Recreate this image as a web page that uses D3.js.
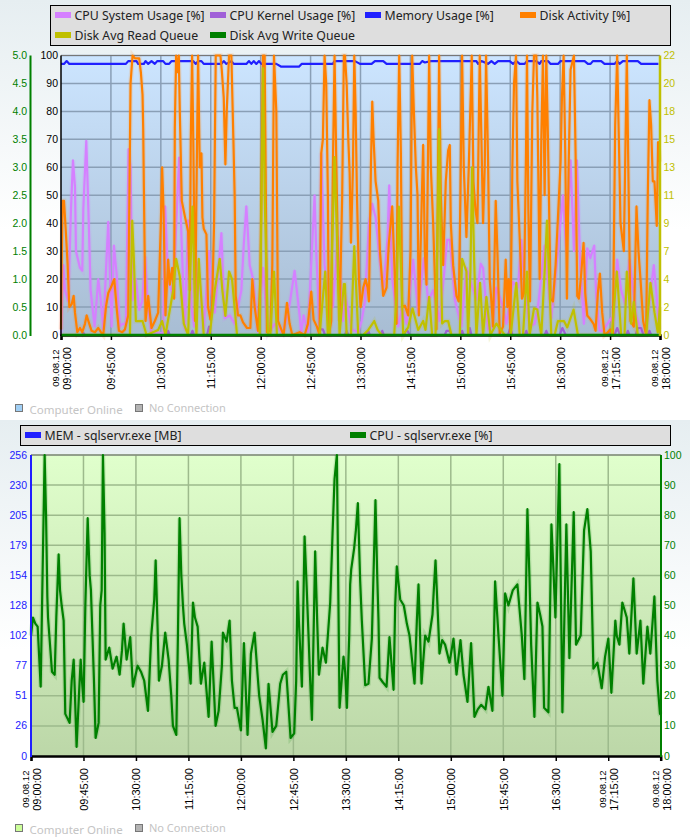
<!DOCTYPE html>
<html>
<head>
<meta charset="utf-8">
<script src="https://cdnjs.cloudflare.com/ajax/libs/d3/7.8.5/d3.min.js"></script>
<style>
html, body { margin: 0; padding: 0; background: #fff; }
svg { display: block; }
text { font-family: "Liberation Sans", sans-serif; }
</style>
</head>
<body>
<div id="chart"></div>
<script>
// samples are [minutes since 09:00, value]
var cpuSystem = [[0,0],[2.1,25],[3.6,16],[6.6,12],[9,45],[10.8,62.5],[12.6,53],[13.5,30],[17.1,24],[19.2,23],[20.1,45],[22.8,69.5],[24.6,46],[26.7,16],[30.3,3],[33.6,20],[35.7,13],[38.1,2],[42.6,40.5],[45.6,3],[47.7,32],[50.1,22],[53.1,3],[55.5,4],[58.5,4],[60.9,66.5],[62.7,60],[64.5,12.5],[67.5,20],[70.5,9],[73.2,12],[75.9,28],[78,12],[81.6,0.5],[86.1,1],[92.1,0.5],[93.9,46],[96.6,20],[101.1,14],[106.5,63.5],[108.6,35],[111.6,2],[114.6,41],[117.6,10],[120,3],[123.6,26],[128.7,2],[133.5,30],[135.6,15],[138.6,8],[144.6,36.5],[147.6,6],[152.1,7],[156.6,4],[162.6,16],[164.7,32],[167.1,46],[170.1,25],[173.1,20],[177.6,1],[182.1,24],[186.6,0.5],[192.6,4],[200.1,0.5],[206.1,11],[210.6,23],[215.1,7],[216.6,0.5],[218.7,7],[222.6,1],[228.6,50],[230.1,30],[233.1,1],[234.6,65],[237.6,25],[240.6,15],[245.1,10],[249.6,35],[254.1,5],
  [256,15],[262,2],[268,1],[271,5],[274,12],[277.6,40],[280.6,47],[283.6,42],[287.5,26],[290.5,16],[294.4,35],[295.9,53.5],[298.6,20],[304,3],[307.6,10],[311.5,4],[317.5,27],[322,8],[327.1,27.5],[331,12],[335.5,16],[341.5,5],[348.1,34],[350.5,34],[355,12.6],[361,3],[365.5,24],[370.9,17],[374.5,12.6],[378.4,25.5],[380.5,24],[385,2],[388.9,3],[392.5,17],[398.5,10],[401.5,4],[407.5,19],[412,17],[415,34],[418,17],[422.5,3],[427,4],[430,10],[436,32],[442,6],[448,30],[452.5,50],[455.5,30],[459.4,62.5],[462.4,30],[465.1,62.5],[468.1,25],[471.4,4],[474.4,31],[477.1,27.5],[480.7,32],[482.5,14],[485.5,1.5],[488.5,1.5],[496,6],[497.5,4],[501.4,27],[505,16],[508.6,11],[512.5,27],[514.6,20],[518.5,7],[523,1.5],[526.9,0.5],[529.6,9],[534.4,25],[536.5,16],[539.5,2]];

var cpuKernel = [[0,0],[19,0],[20.1,0.7],[21.6,0],[96,0],[96.6,1.5],[98,0],[117,0],[118.5,1.5],[120,0],[131.7,0],[133.5,3],[135,0],[232.5,0],[233.1,2],[236.1,2],[238,0],[256,0],[257.5,1.5],[259,0],[275.5,0],[277,1.5],[278.5,0],[288,0],[289.6,1.5],[291,0],[309.4,0],[311.5,2],[314.5,0],[346,0],[347.5,1.5],[350.5,1.5],[352,0],[360,0],[361.6,1.5],[363,0],[367,0],[368.5,2.5],[370,0],[403,0],[405,2.5],[407,0],[418,0],[419.5,1.5],[421,0],[436,0],[437.5,1.5],[439,0],[449.5,0],[452,2.5],[455,0],[492.4,0],[494,1.5],[495.6,0],[499,0],[501.4,2.5],[504,0],[509.5,0],[511,1.5],[512.5,0],[518,0],[520,2.5],[523,2.5],[525,0],[529,0],[530.5,1.5],[532,0],[540,0]];

var memoryUsage = [[0,97],[2.7,97],[5.1,98],[7.5,97],[58.5,97],[60.6,98],[68.1,98],[69.6,97],[74.7,97],[76.2,98],[78.6,97],[81.6,98],[84.6,97],[86.7,98],[92.1,98],[94.2,97],[97.5,97],[99.6,98],[119.1,98],[121.5,97],[123.6,98],[126.6,98],[128.7,97],[144.6,97],[146.7,98],[149.1,97],[153.6,98],[155.7,97],[167.1,97],[169.5,98],[171.6,97],[173.7,98],[176.1,97],[178.5,98],[180.6,97],[194.1,97],[198.6,96],[214.5,96],[216.9,97],[237.6,97],[245.1,97],[246.6,98],[256,98],[265,98],[269.5,97],[280,97],[283,98],[290.5,98],[293.5,97],[323.5,97],[325.6,98],[328,97.5],[333.4,98],[361.6,98],[374.5,98],[376,97],[379,98],[385,97],[388,98],[391,97],[394,98],[404.5,98],[407.5,97],[410.5,98],[413.5,97],[418,97],[420,98],[428.5,98],[431.5,97],[433,98],[439,98],[441.4,97],[448,97],[450.4,98],[472,98],[475,97],[477.4,97],[479.5,98],[487,98],[490,97],[499,97],[501.4,98],[503.5,97],[506.5,98],[520,98],[523,97],[538.6,97]];

var diskActivity = [[0,2],[0.6,25],[1.5,48],[2.7,48],[4.2,38],[6,25],[7.5,10],[9.6,11],[11.4,14],[12.6,8],[14.7,1],[17.1,2.5],[19.2,1],[21.6,4],[23.1,7],[25.5,4],[27.6,1.5],[30.6,1],[33.6,2.5],[36,1],[38.1,0],[40.5,10],[42.6,15],[45,17],[48,20],[50.1,10],[52.2,1.5],[55.2,1],[57.6,2],[60.6,7],[62.7,90],[64.5,100],[66.6,99],[70.5,99],[72,94],[73.5,86],[74.1,74],[74.7,53],[76.2,5],[78.6,14],[80.1,8],[81.6,2.5],[84.6,5],[87.6,8],[90,40],[91.2,60],[92.4,45],[94.2,7],[96.6,27],[98.1,18],[100.2,24],[102,13],[102.6,74],[103.8,100],[105,94],[106.2,100],[107.1,80],[108.9,48],[111.9,42],[114.6,37],[116.1,16],[117,70],[118.2,100],[119.4,65],[120.9,5],[122.1,50],[123.6,100],[125.1,60],[126.6,65],[127.5,42],[128.7,38],[131.1,36],[132.6,10],[134.7,5.5],[136.2,10],[138,40],[139.5,100],[143.7,100],[144.9,95],[146.7,85],[148.2,61],[149.4,80],[151.5,100],[153.6,100],[155.4,70],[156.6,49],[157.5,14],[159.6,7],[161.7,7],[164.1,4.5],[167.7,2.5],[170.7,2.5],[172.5,20],[174.6,10],[177.6,1.5],[179.7,20],[182.1,100],[183.6,100],[185.7,1],[188.7,1.5],[190.5,25],[192,100],[194.1,80],[195.6,5],[198.6,2],[200.7,0],[203.7,11.5],[206.1,4],[208.5,0],[212.1,0.5],[215.1,1],[219.6,0],[222.6,4],[225.6,15.5],[227.7,5.5],[230.7,3],[233.1,0],[234.6,65],[236.1,70],[237.6,100],[239.1,90],[240.6,50],[241.5,0],[243.6,5],[245.1,60],[246.6,100],[248.1,64],[249.6,30],[251.1,5],[253.5,50],[255,100],
  [256,100],[257.5,90],[259,70],[260.2,58],[261.4,33],[263.2,60],[264.4,100],[265.6,80],[266.8,50],[268.6,20],[270.1,10],[272.5,17],[274.6,20],[276.4,17],[277.6,12],[279.4,60],[280.6,83.5],[281.8,70],[283.6,55],[286,48],[287.5,30],[290.5,14],[293.5,17],[295.6,33],[298.6,46],[300.1,30],[302.5,4],[303.4,60],[304.9,100],[306.4,65],[307.6,10],[310,10.5],[313,7],[315.1,30],[316.6,100],[318.1,80],[319.9,60],[321.4,50],[322.6,7],[324.4,35],[326.5,68],[328,30],[329.5,18],[331.9,100],[333.4,60],[335.5,40],[338.5,2],[340.9,100],[342.4,50],[344.5,25],[346.9,55],[349,66],[350.5,68],[351.4,40],[353.5,25],[356.5,14],[358.6,12],[360.1,50],[361.6,100],[363.1,60],[365.5,35],[367.6,60],[370.3,100],[371.8,55],[373.6,45],[375.4,40],[377.5,100],[379,70],[380.5,40],[382,60],[383.2,100],[385,62],[386.5,20],[388,12],[389.5,3],[391.9,48],[393.4,30],[395.5,0.5],[398.5,3],[400.9,27],[402.4,10],[403.6,20],[405.1,1],[406.9,60],[408.4,90],[410.2,100],[411.4,55],[413.5,35],[415.6,13],[417.4,15],[419.2,65],[420.1,100],[421.3,45],[422.8,12],[424.9,80],[426.4,100],[428.5,100],[429.4,85],[431.5,20],[433,70],[434.5,100],[436,50],[437.5,100],[439,70],[441.4,13],[443.5,12],[445.9,25],[448,42],[450.4,62],[451.6,85],[453.1,100],[454.6,65],[456.1,13],[457.6,60],[459.4,95],[460.6,97],[462.4,100],[463.9,65],[465.4,14],[466.9,13],[469,22],[471.1,33],[472.6,15],[474.4,7],[476.5,6],[480.1,4],[481.9,1.5],[484,15],[485.8,22],[487.9,8],[490,0],[493,1],[495.1,2],[497.5,0],[499.6,75],[501.4,100],[502.9,70],[504.4,40],[507.4,30],[510.1,100],[511.6,55],[513.4,5],[516.4,3],[518.8,46],[520.6,30],[522.4,20],[524.8,5],[527.5,0],[529,50],[530.5,84],[532,75],[533.5,55],[535,55],[537.1,39],[538.3,69],[540,62]];

var readQueue = [[0,0],[62.1,0],[64.2,9],[65.7,6],[67.5,1.1],[73.5,1.1],[77.1,0],[87.6,0.4],[91.2,1.1],[94.2,0],[101.1,3.5],[103.8,6],[107.1,4.6],[110.7,0.9],[114.6,0],[118.5,10.1],[120.6,3.5],[122.1,0],[124.2,6],[126,3.5],[128.7,0],[134.1,0],[138.6,3.5],[143.1,6],[145.5,3.5],[148.2,1.5],[151.5,5],[154.2,4.4],[158.7,0],[179.1,0],[180.6,9.2],[182.1,21],[183.6,11],[186.6,0],[188.7,0],[192,5],[194.7,0],[233.1,0],[238.2,5],[240.6,0],[242.1,0],[245.1,9],[246.6,14],[248.7,8],[251.1,0],[255,4],
  [256,4],[257.5,0],[261.4,0],[264.4,7],[268,0],[272.5,0],[277,0.4],[282.4,1.1],[285.4,0.4],[289,0],[300.4,0],[302.5,3.3],[304.6,10.1],[308.5,0],[313,0.6],[316.9,2.1],[322,0.4],[326.5,1.1],[328.6,0.4],[331.9,3],[334.6,0],[337.6,0],[339.4,8],[340.9,16.2],[342.4,6],[343.6,0.9],[346,1.1],[349,1.1],[352,0],[359.5,0],[361.6,6],[365.5,5],[367,0],[369.1,5],[370.6,13.2],[372.4,6],[374.5,0],[377.8,4.1],[380.5,0],[383.5,3],[387.1,0],[392.5,0.9],[400,0],[405.4,0],[410.5,4.1],[413.5,0],[416.5,0],[420.1,5],[422.5,0],[426.4,2.1],[429.4,2],[433,0],[436,5],[438.1,9],[442,0],[445,0],[448,1.1],[453.4,1.1],[456.4,0.6],[462.1,2],[466,0],[496.6,0],[501.1,5],[505,0],[508,0],[510.1,5],[514,0.9],[516.4,2.6],[520,0],[527.5,0],[531.4,4.1],[535,1.8],[538,0.2],[540,2.2]];

var writeQueue = [[0,0],[540,0]];

var cpuSqlservr = [[0,40],[1.7,46],[3.7,44],[5.7,43],[8.3,23],[10,62],[11.7,100],[12.9,80],[14,53],[14.6,46],[18,28],[20.3,27],[21.7,46],[23.7,67],[24.9,55],[26.3,50],[28,45],[29.4,14],[33.1,11],[34.9,25],[36.6,32],[37.7,20],[39.1,3],[41.1,20],[42.6,32],[43.7,25],[45.1,18],[46.6,50],[48.6,79],[50.3,60],[51.4,55],[54,25],[55.4,6],[58,11],[59.4,50],[60.6,55],[61.7,100],[63.1,74],[64,32],[67.1,36],[70,29],[73.4,33],[76,27],[78,35],[79.4,44],[82,32],[85.1,39.5],[87.4,23],[91.4,30],[94.3,28],[97.1,25],[100.3,15],[103.1,40],[105.7,52],[106.9,65],[108.6,42],[109.7,25],[112.3,30],[115.1,41],[118,32],[120.3,20],[121.7,10],[124.6,7],[126,40],[127.4,79],[128.9,60],[130.3,50],[131.4,44],[133.7,37],[136.9,24],[138.9,51],[140.6,46],[142.9,43],[145.7,24],[148.6,31],[152.3,13],[154.9,38],[156.6,24],[158.3,10],[160.9,15],[163.7,30],[164.6,41],[167.7,38],[170.3,45],[172.3,25],[174.6,16],[176.6,16],[180,8.5],[182.6,37.5],[185.7,7],[188.6,34],[191.7,41],[194.3,27],[195.7,20],[198.6,12],[201.4,2.5],[203.7,24],[207.1,8],[210.3,10],[213.7,24],[216,27],[218.9,28],[222.6,6],[225.7,7.5],[227.4,25],[228.6,58],[229.7,45],[232.3,23],[234.6,73],[236,60],[238,40],[239.4,25],[240.9,12],[243.7,68],[245.4,45],[246.9,27],[250,36],[252.9,31],[256.6,51],[258.6,74],[260.3,92],[262.3,100],[264.6,16],[268,33],[269.4,28],
  [270.9,16],[272.9,40],[273.7,57],[274.6,62],[277.1,69],[278.6,75],[280.3,84],[282.3,58],[283.7,45],[286.6,23.5],[289.4,24],[292.3,39],[293.7,60],[295.4,85],[296.9,60],[298,45],[298.9,26],[301.7,24.5],[304.9,23],[307.4,39.5],[310.9,22],[312.3,50],[313.7,63],[316.6,52],[319.7,50],[322.3,44],[324.6,40],[328.9,24],[330.9,45],[332.3,57],[334.9,24],[338,40],[340.9,38],[344.3,47],[345.4,55],[346.9,65],[348.9,47],[350.3,34],[352.6,38.5],[355.1,37],[358.9,31],[362.3,39],[364.9,27],[368.3,38.5],[370.9,27],[374.3,18],[377.4,37.5],[380.3,13],[383.1,15.5],[386,17],[389.7,15.5],[392.3,23],[395.7,15],[398,58],[400.9,40],[404.3,20],[406.6,54],[409.4,50],[413.1,55],[417.1,57],[420.9,40],[423.1,25.5],[425.7,82],[427.4,60],[428.9,37],[431.7,13],[434.3,51],[436.6,47],[438.6,43],[440,16],[443.7,14.5],[446.3,77],[448,62],[449.7,46],[453.1,97],[455.7,14.5],[459.1,77],[461.7,32.5],[465.4,81],[467.4,37],[471.4,40],[474.3,75],[477.1,82],[480,68],[482.3,29],[485.7,31],[489.4,22.5],[492.3,33],[495.1,39],[497.7,21],[501.1,45],[502.3,40],[504.6,37],[507.1,51],[510.9,46],[513.1,34],[516.6,59],[519.4,34],[522.6,45],[525.1,24],[528.6,43],[531.1,34],[534.6,53],[537.1,25],[539.4,14],[540,14]];

var tickMinutes = [0, 45, 90, 135, 180, 225, 270, 315, 360, 405, 450, 495, 540];
var tickTimes = ["09:00:00", "09:45:00", "10:30:00", "11:15:00", "12:00:00", "12:45:00", "13:30:00", "14:15:00", "15:00:00", "15:45:00", "16:30:00", "17:15:00", "18:00:00"];
var tickDates = ["09.08.12", "", "", "", "", "", "", "", "", "", "", "09.08.12", "09.08.12"];

var percentTicks = [0, 10, 20, 30, 40, 50, 60, 70, 80, 90, 100];
var writeQueueLabels = ["0.0", "0.5", "1.0", "1.5", "2.0", "2.5", "3.0", "3.5", "4.0", "4.5", "5.0"];
var readQueueLabels = ["0", "2", "4", "7", "9", "11", "13", "15", "18", "20", "22"];
var memLabels = ["0", "26", "51", "77", "102", "128", "154", "179", "205", "230", "256"];

var topLegend = ["CPU System Usage [%]", "CPU Kernel Usage [%]", "Memory Usage [%]", "Disk Activity [%]", "Disk Avg Read Queue", "Disk Avg Write Queue"];
var topColors = ["#d580ff", "#a060d8", "#2020ff", "#ff8000", "#c0c000", "#008000"];
var bottomLegend = ["MEM - sqlservr.exe [MB]", "CPU - sqlservr.exe [%]"];
var bottomColors = ["#2020ff", "#008000"];

var svg = d3.select("#chart").append("svg").attr("width", 690).attr("height", 840);
var defs = svg.append("defs");

function vGradient(id, top, bottom, stop) {
  var g = defs.append("linearGradient").attr("id", id).attr("x1", 0).attr("y1", 0).attr("x2", 0).attr("y2", 1);
  g.append("stop").attr("offset", "0%").attr("stop-color", top);
  g.append("stop").attr("offset", stop || "100%").attr("stop-color", bottom);
}
vGradient("pageBg", "#e6eef1", "#ffffff", "55%");
vGradient("bluePlot", "#cce5ff", "#a8bdd3");
vGradient("greenPlot", "#e0ffcc", "#bcd7a8");

function drawLegend(box, names, colors, cols) {
  svg.append("rect").attr("x", box.x + 0.5).attr("y", box.y + 0.5)
    .attr("width", box.w).attr("height", box.h)
    .attr("fill", "#dedede").attr("stroke", "#000");
  names.forEach(function(name, i) {
    var sx = cols[i % cols.length];
    var cy = box.y + 10 + 20 * Math.floor(i / cols.length);
    svg.append("rect").attr("x", sx).attr("y", cy - 3).attr("width", 16).attr("height", 6).attr("fill", colors[i]);
    svg.append("text").attr("x", sx + 19.5).attr("y", cy + 4.5)
      .attr("font-size", 12.3).attr("fill", "#222")
      .style("font-family", '"Noto Sans", sans-serif')
      .text(name);
  });
}

function drawStatus(y, onlineColor) {
  svg.append("rect").attr("x", 15.5).attr("y", y + 0.5).attr("width", 7).attr("height", 7).attr("fill", onlineColor).attr("stroke", "#777");
  svg.append("rect").attr("x", 135.5).attr("y", y + 0.5).attr("width", 7).attr("height", 7).attr("fill", "#b4b4b4").attr("stroke", "#777");
  svg.append("text").attr("x", 29.5).attr("y", y + 10).attr("font-size", 11.5).attr("fill", "#c4c4c4")
    .style("font-family", '"Noto Sans", sans-serif').text("Computer Online");
  svg.append("text").attr("x", 149).attr("y", y + 8).attr("font-size", 11).attr("fill", "#c4c4c4")
    .style("font-family", '"Noto Sans", sans-serif').text("No Connection");
}

function drawFrame(x, y, bg, grid) {
  var x0 = x.range()[0], x1 = x.range()[1], y0 = y.range()[0], y1 = y.range()[1];
  svg.append("rect").attr("x", x0).attr("y", y1).attr("width", x1 - x0).attr("height", y0 - y1).attr("fill", "url(#" + bg + ")");
  svg.append("g").selectAll("line").data(percentTicks.slice(1)).enter().append("line")
    .attr("x1", x0).attr("x2", x1).attr("y1", y).attr("y2", y)
    .attr("stroke", grid).attr("stroke-width", 1.5);
  svg.append("g").selectAll("line").data(tickMinutes.slice(1, -1)).enter().append("line")
    .attr("x1", x).attr("x2", x).attr("y1", y1).attr("y2", y0)
    .attr("stroke", grid).attr("stroke-width", 1.5);
  svg.append("line").attr("x1", x0).attr("x2", x1).attr("y1", y1).attr("y2", y1).attr("stroke", "#777");
}

function drawTimeAxis(x, y0) {
  var axis = d3.axisBottom(x).tickValues(tickMinutes).tickSize(5).tickFormat("");
  var g = svg.append("g").attr("transform", "translate(0," + y0 + ")").call(axis);
  g.select(".domain").attr("stroke", "#000").attr("stroke-width", 2.5);
  g.selectAll(".tick line").attr("stroke", "#000").attr("stroke-width", 1.5);
  tickMinutes.forEach(function(m, i) {
    var label = svg.append("g").attr("transform", "translate(" + x(m) + "," + (y0 + 12) + ") rotate(-90)");
    // dated ticks carry two lines, the time then sits right of the tick
    label.append("text").attr("text-anchor", "end").attr("y", tickDates[i] ? 10 : 4.5)
      .attr("font-size", 11).attr("fill", "#000").text(tickTimes[i]);
    if (tickDates[i]) {
      label.append("text").attr("x", -2.5).attr("text-anchor", "end").attr("y", -2)
        .attr("font-size", 9.6).attr("fill", "#000").text(tickDates[i]);
    }
  });
}

// value axis drawn as a coloured bar with labels that sit on the percent grid
function drawValueAxis(y, lineX, textX, anchor, labels, color, width) {
  var g = svg.append("g");
  if (width) {
    g.append("line").attr("x1", lineX).attr("x2", lineX).attr("y1", y.range()[1]).attr("y2", y.range()[0] + 1)
      .attr("stroke", color).attr("stroke-width", width);
  }
  g.selectAll("text").data(labels).enter().append("text")
    .attr("x", textX).attr("y", function(d, i) { return y(percentTicks[i]) + 3.5; })
    .attr("text-anchor", anchor).attr("font-size", 10.5)
    .attr("fill", color)
    .style("font-family", '"Liberation Sans Narrow", "Liberation Sans", sans-serif')
    .text(function(d) { return d; });
}

function drawLine(samples, x, y, color, width, halo) {
  var line = d3.line().x(function(d) { return x(d[0]); }).y(function(d) { return y(d[1]); });
  if (halo) {
    svg.append("path").datum(samples).attr("d", line).attr("fill", "none")
      .attr("stroke", color).attr("stroke-opacity", 0.14).attr("stroke-width", width + 2.5);
  }
  svg.append("path").datum(samples).attr("d", line).attr("fill", "none")
    .attr("stroke", color).attr("stroke-width", width)
    .attr("stroke-linejoin", "round");
}

/* page backgrounds */
svg.append("rect").attr("width", 690).attr("height", 420).attr("fill", "url(#pageBg)");
svg.append("rect").attr("y", 420).attr("width", 690).attr("height", 420).attr("fill", "url(#pageBg)");

/* top chart */
var x1 = d3.scaleLinear().domain([0, 540]).range([61, 660]);
var yPct = d3.scaleLinear().domain([0, 100]).range([335, 55.5]);
var yRead = d3.scaleLinear().domain([0, 22]).range([335, 55.5]);
var yWrite = d3.scaleLinear().domain([0, 5]).range([335, 55.5]);

drawLegend({x: 50, y: 5, w: 620, h: 40}, topLegend, topColors, [55, 210, 365, 520]);
drawFrame(x1, yPct, "bluePlot", "#8a9fb6");
drawLine(cpuSystem, x1, yPct, topColors[0], 2.2, true);
drawLine(cpuKernel, x1, yPct, topColors[1], 2.2, false);
drawLine(memoryUsage, x1, yPct, topColors[2], 2.2, false);
drawLine(diskActivity, x1, yPct, topColors[3], 2.2, true);
drawLine(readQueue, x1, yRead, topColors[4], 2.2, true);
drawTimeAxis(x1, 335);
drawLine(writeQueue, x1, yWrite, topColors[5], 2.5, false);
drawValueAxis(yPct, 30.5, 27, "end", writeQueueLabels, "#008000", 2);
drawValueAxis(yPct, 61, 58, "end", percentTicks, "#000", 1.5);
drawValueAxis(yPct, 660, 663.5, "start", readQueueLabels, "#c0c000", 2.5);
drawStatus(404, "#a0cff5");

/* bottom chart */
var x2 = d3.scaleLinear().domain([0, 540]).range([31, 660.7]);
var yCpu = d3.scaleLinear().domain([0, 100]).range([756, 455]);

drawLegend({x: 20, y: 425, w: 650, h: 20}, bottomLegend, bottomColors, [25, 350]);
drawFrame(x2, yCpu, "greenPlot", "#9dba8c");
drawLine(cpuSqlservr, x2, yCpu, "#008000", 2.2, true);
drawTimeAxis(x2, 756);
drawValueAxis(yCpu, 31, 27, "end", memLabels, "#2020ff", 2);
drawValueAxis(yCpu, 661, 664, "start", percentTicks, "#008000", 2);
drawStatus(824, "#ccff99");
</script>
</body>
</html>
